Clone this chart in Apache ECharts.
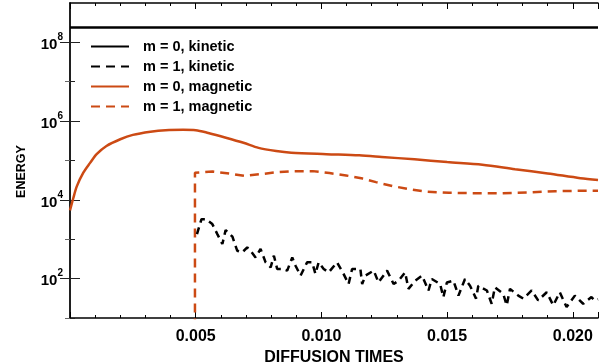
<!DOCTYPE html>
<html>
<head>
<meta charset="utf-8">
<script src="https://cdn.jsdelivr.net/npm/echarts@6/dist/echarts.min.js"></script>
<style>
html,body{margin:0;padding:0;background:#fff;}
#c{width:604px;height:362px;}
</style>
</head>
<body>
<div id="c"></div>
<script>
// ---- data ----
var seriesNames = ['m = 0, kinetic', 'm = 1, kinetic', 'm = 0, magnetic', 'm = 1, magnetic'];

var kin0T = [0, 0.021];
var kin0V = [2.4e8, 2.4e8];

var kin1T = [0.00505, 0.00523, 0.0054, 0.00566, 0.00586, 0.00606, 0.00619, 0.00646, 0.00665, 0.00685,
  0.00705, 0.00718, 0.00738, 0.00758, 0.00778, 0.00798, 0.00811, 0.00824, 0.00844, 0.00864,
  0.00884, 0.00897, 0.00917, 0.00943, 0.00963, 0.00976, 0.00989, 0.01009, 0.01029, 0.01062,
  0.01088, 0.01108, 0.01122, 0.01155, 0.01162, 0.01175, 0.01208, 0.01227, 0.01261, 0.01287,
  0.01307, 0.01333, 0.01346, 0.01373, 0.014, 0.01426, 0.01439, 0.01472, 0.01485, 0.01499,
  0.01525, 0.01545, 0.01571, 0.01591, 0.01615, 0.01624, 0.01658, 0.01677, 0.0169, 0.01723,
  0.01737, 0.0175, 0.01783, 0.01803, 0.01836, 0.01862, 0.01896, 0.01922, 0.01948, 0.01975,
  0.02008, 0.02041, 0.02074, 0.02087, 0.021];
var kin1V = [1350, 3240, 3240, 2430, 1350, 755, 1710, 1160, 512, 464,
  620, 512, 346, 565, 259, 193, 382, 176, 176, 160,
  346, 213, 119, 259, 259, 132, 259, 176, 144, 259,
  132, 73, 176, 176, 73, 119, 160, 80, 160, 73,
  89, 144, 55, 89, 119, 50, 98, 73, 34, 80,
  89, 37, 98, 66, 31, 66, 50, 23, 60, 41,
  21, 55, 37, 31, 50, 28, 45, 21, 45, 19,
  37, 23, 34, 28, 30];

var mag0T = [0, 0.00013, 0.00027, 0.00053, 0.0008, 0.00106, 0.00145, 0.002, 0.0025, 0.0032,
  0.0038, 0.0045, 0.005, 0.0055, 0.0062, 0.0069, 0.0075, 0.0082, 0.0088, 0.0102,
  0.0115, 0.0124, 0.0137, 0.015, 0.0164, 0.0177, 0.019, 0.0203, 0.021];
var mag0V = [5400, 11000, 22000, 49000, 87000, 145000, 234000, 347000, 447000, 537000,
  589000, 603000, 589000, 500000, 380000, 282000, 209000, 174000, 158000, 145000,
  135000, 123000, 107000, 91000, 78000, 60000, 47000, 35500, 32000];

var mag1T = [0.00497, 0.00497, 0.00567, 0.00633, 0.00694, 0.00754, 0.0082, 0.00886, 0.00965, 0.01032,
  0.01098, 0.01164, 0.01217, 0.01283, 0.01349, 0.01416, 0.01508, 0.01614, 0.01719, 0.01825,
  0.01931, 0.02037, 0.021];
var mag1V = [1, 49000, 52500, 46800, 40700, 44700, 50100, 53700, 53700, 47900,
  41700, 34700, 28200, 22400, 18600, 16200, 15100, 14800, 14800, 15500,
  16600, 17000, 17000];

var xMajorTicks = [0.005, 0.010, 0.015, 0.020];
var yMajorTicks = [1e2, 1e4, 1e6, 1e8];
var yMinorTicks = [1e1, 1e3, 1e5, 1e7];

function pairs(t, v) { return t.map(function (x, i) { return [x, v[i]]; }); }

var FONT = '"Liberation Sans", Arial, sans-serif';
var ORANGE = '#cc4a14';

function isMajorX(v) {
  var r = v / 0.005;
  return v > 1e-9 && Math.abs(r - Math.round(r)) < 1e-6;
}

var chart = echarts.init(document.getElementById('c'), null, {renderer: 'canvas'});
var xBase = {type: 'value', min: 0, max: 0.021, gridIndex: 0, splitLine: {show: false}};
var yBase = {type: 'log', logBase: 10, min: 10, max: 1e9, gridIndex: 0, splitLine: {show: false}};

chart.setOption({
  animation: false,
  backgroundColor: '#fff',
  grid: {left: 70, right: 6, top: 3, bottom: 44, containLabel: false, outerBoundsMode: 'none'},
  legend: {
    orient: 'vertical', left: 90, top: 39, padding: 0,
    itemWidth: 38, itemHeight: 14, itemGap: 5,
    data: [
      {name: seriesNames[0]},
      {name: seriesNames[1], lineStyle: {type: [9, 6]}},
      {name: seriesNames[2]},
      {name: seriesNames[3]}
    ],
    itemStyle: {opacity: 0},
    textStyle: {fontFamily: FONT, fontWeight: 'bold', fontSize: 14.5, color: '#000', padding: [0, 0, 0, 9]}
  },
  xAxis: [
    Object.assign({}, xBase, {
      position: 'bottom', interval: 0.005,
      name: 'DIFFUSION TIMES', nameLocation: 'middle', nameGap: 22,
      nameTextStyle: {fontFamily: FONT, fontWeight: 'bold', fontSize: 16, color: '#000'},
      axisLine: {show: true, lineStyle: {color: '#000', width: 1.5}},
      axisTick: {show: true, inside: true, length: 6, lineStyle: {color: '#000', width: 1}},
      axisLabel: {show: true, margin: 11, fontFamily: FONT, fontWeight: 'bold', fontSize: 16, color: '#000',
        formatter: function (v) { return isMajorX(v) ? v.toFixed(3) : ''; }}
    }),
    Object.assign({}, xBase, {
      position: 'bottom', interval: 0.001,
      axisLine: {show: false},
      axisTick: {show: true, inside: true, length: 3, lineStyle: {color: '#000', width: 1}},
      axisLabel: {show: false}
    }),
    Object.assign({}, xBase, {
      position: 'top', interval: 0.005,
      axisLine: {show: true, lineStyle: {color: '#000', width: 1.5}},
      axisTick: {show: true, inside: true, length: 6, lineStyle: {color: '#000', width: 1}},
      axisLabel: {show: false}
    }),
    Object.assign({}, xBase, {
      position: 'top', interval: 0.001,
      axisLine: {show: false},
      axisTick: {show: true, inside: true, length: 3, lineStyle: {color: '#000', width: 1}},
      axisLabel: {show: false}
    })
  ],
  yAxis: [
    Object.assign({}, yBase, {
      position: 'left',
      name: 'ENERGY', nameLocation: 'middle', nameGap: 42,
      nameTextStyle: {fontFamily: FONT, fontWeight: 'bold', fontSize: 12.5, color: '#000', padding: [0, 22, 0, 0]},
      axisLine: {show: true, lineStyle: {color: '#555', width: 1.5}},
      axisTick: {show: true, inside: true, length: 10, customValues: yMajorTicks, lineStyle: {color: '#222', width: 1}},
      axisLabel: {show: true, margin: 7, customValues: yMajorTicks,
        formatter: function (v) {
          var e = Math.round(Math.log10(v));
          return '{b|10}{s|' + e + '}';
        },
        rich: {
          b: {fontFamily: FONT, fontWeight: 'bold', fontSize: 15, color: '#000', lineHeight: 20, verticalAlign: 'bottom'},
          s: {fontFamily: FONT, fontWeight: 'bold', fontSize: 10, color: '#000', lineHeight: 20, verticalAlign: 'top'}
        }}
    }),
    Object.assign({}, yBase, {
      position: 'left',
      axisLine: {show: false},
      axisTick: {show: true, inside: true, length: 5, customValues: yMinorTicks, lineStyle: {color: '#222', width: 1}},
      axisLabel: {show: false}
    }),
    Object.assign({}, yBase, {
      position: 'right',
      axisLine: {show: true, lineStyle: {color: '#000', width: 1.5}},
      axisTick: {show: true, inside: true, length: 10, customValues: yMajorTicks, lineStyle: {color: '#222', width: 1}},
      axisLabel: {show: false}
    }),
    Object.assign({}, yBase, {
      position: 'right',
      axisLine: {show: false},
      axisTick: {show: true, inside: true, length: 5, customValues: yMinorTicks, lineStyle: {color: '#666', width: 1}},
      axisLabel: {show: false}
    })
  ],
  series: [
    {name: seriesNames[0], type: 'line', xAxisIndex: 0, yAxisIndex: 0, showSymbol: false, symbol: 'none',
      data: pairs(kin0T, kin0V), lineStyle: {color: '#000', width: 2.5, type: 'solid'}, itemStyle: {color: '#000'}, z: 3},
    {name: seriesNames[1], type: 'line', xAxisIndex: 0, yAxisIndex: 0, showSymbol: false, symbol: 'none',
      data: pairs(kin1T, kin1V), lineStyle: {color: '#000', width: 2.5, type: [7, 5]}, itemStyle: {color: '#000'}, z: 3},
    {name: seriesNames[2], type: 'line', xAxisIndex: 0, yAxisIndex: 0, showSymbol: false, symbol: 'none', smooth: 0.3,
      data: pairs(mag0T, mag0V), lineStyle: {color: ORANGE, width: 2.5, type: 'solid'}, itemStyle: {color: ORANGE}, z: 2},
    {name: seriesNames[3], type: 'line', xAxisIndex: 0, yAxisIndex: 0, showSymbol: false, symbol: 'none',
      data: pairs(mag1T, mag1V), lineStyle: {color: ORANGE, width: 2.5, type: [9, 6]}, itemStyle: {color: ORANGE}, z: 2}
  ]
});
</script>
</body>
</html>
